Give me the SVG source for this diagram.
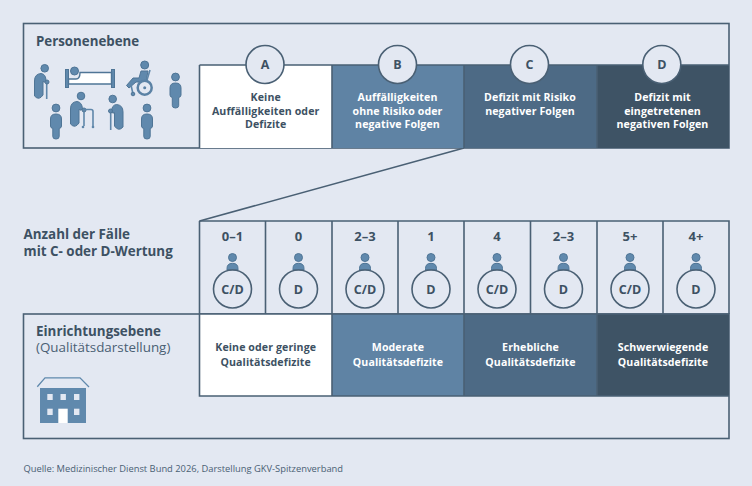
<svg xmlns="http://www.w3.org/2000/svg" width="752" height="486" viewBox="0 0 752 486">
<style>
text{font-family:"Open Sans","Noto Sans",sans-serif}
.ln{fill:none;stroke:#4a6074;stroke-width:1.6}
.b{fill:#3d5163;font-weight:700}
.lab{font-size:10.6px;font-weight:700;text-anchor:middle;letter-spacing:.1px}
.dk{fill:#3d5163}.wh{fill:#fff}
.ltr{font-size:12.5px;font-weight:700;text-anchor:middle;fill:#3d5163}
.cnt{font-size:13px;font-weight:700;text-anchor:middle;fill:#3d5163}
.circ{fill:#e3e8f2;stroke:#4a6074;stroke-width:1.6}
.ic{fill:#6089ad;stroke:#4f7596;stroke-width:1}
.pole{fill:none;stroke:#5f87aa;stroke-width:1.6}
</style>
<defs>
<g id="person"><circle cx="0" cy="-14.5" r="3.9" class="ic"/><path class="ic" d="M-5.5 -3.5Q-5.500 -8.500 0 -8.500Q5.500 -8.500 5.500 -3.500V3.500Q5.500 5.500 3.200 6V14Q3.200 16.500 0 16.500Q-3.200 16.500 -3.200 14V6Q-5.500 5.500 -5.500 3.500Z"/></g>
<g id="mini"><circle cx="0" cy="-4" r="4" class="ic"/><path class="ic" d="M-5.5 8.500V7Q-5.500 1.800 0 1.800Q5.500 1.800 5.500 7V8.500Z"/></g>
</defs>
<rect width="752" height="486" fill="#e3e8f2"/>
<g id="connectors">
<path class="ln" d="M199.500 221L464 148"/>
</g>
<g id="personenebene">
<rect class="ln" x="23.500" y="23.500" width="705.500" height="124.500"/>
<text x="36" y="45.500" font-size="13.300px" class="b">Personenebene</text>
<g id="elder-left"><circle cx="44.700" cy="68.300" r="3.800" class="ic"/><path class="ic" d="M34.500 96V81Q34.500 74 41 73.500Q46 74 46 81Q44.500 83 43 81.500V95Q39 101 34.500 96Z"/><path class="pole" d="M46.700 83V99"/><circle cx="47" cy="82" r="2" class="ic"/></g>
<g id="bed">
<rect x="65.500" y="69.500" width="3" height="18" class="ic"/><rect x="111.500" y="69.500" width="3" height="18" class="ic"/>
<circle cx="74.500" cy="71" r="4" class="ic"/>
<path d="M80 72.500H111.500V84H68.500V79H76Q80 79 80 72.500Z" fill="#fff" stroke="#4f7596" stroke-width="1.400"/>
</g>
<g id="wheelchair">
<circle cx="144.700" cy="65" r="4" class="ic"/>
<path class="ic" d="M141 71H148L146 82H136L129 88L126.500 85.500L133 78H139Z"/>
<path class="pole" d="M150 70L147 80M131 85L133 94"/>
<circle cx="144.700" cy="87.700" r="7" fill="#e3e8f2" stroke="#5b82a5" stroke-width="2.500"/><circle cx="144.700" cy="87.700" r="1.500" fill="#5b82a5"/>
<circle cx="133" cy="94" r="1.800" class="ic"/>
</g>
<g transform="translate(175.500,91.500)"><use href="#person"/></g>
<g transform="translate(56,122.500)"><use href="#person"/></g>
<g id="walker">
<circle cx="81" cy="96" r="3.800" class="ic"/>
<path class="ic" d="M70.500 124V109Q70.500 102 77 101.500Q82 102 82.500 109Q81 111 79 109.500V123Q75 129 70.500 124Z"/>
<circle cx="84" cy="110" r="2" class="ic"/>
<path class="pole" d="M84 109.500H91Q93 109.500 93 111.500V126M84 112V126"/>
<circle cx="83" cy="127" r="1.300" fill="#5f87aa"/><circle cx="93" cy="127" r="1.300" fill="#5f87aa"/>
</g>
<g id="elder-right"><circle cx="112.700" cy="99" r="3.800" class="ic"/><path class="ic" d="M123 127V112Q123 105 116.500 104.500Q111.500 105 111.500 112Q113 114 114.500 112.500V126Q118.500 132 123 127Z"/><path class="pole" d="M110.700 112V130"/><circle cx="110.500" cy="111" r="2" class="ic"/></g>
<g transform="translate(147,122.500)"><use href="#person"/></g>
</g>
<g id="cell-a"><rect x="199.500" y="65" width="132.500" height="83" class="wh"/>
<text class="lab dk"><tspan x="265.700" y="101">Keine</tspan><tspan x="265.700" y="114.500">Auffälligkeiten oder</tspan><tspan x="265.700" y="128">Defizite</tspan></text></g>
<g id="cell-b"><rect x="332" y="65" width="132" height="83" fill="#5f83a4"/>
<text class="lab wh"><tspan x="397.500" y="101">Auffälligkeiten</tspan><tspan x="397.500" y="114.500">ohne Risiko oder</tspan><tspan x="397.500" y="128">negative Folgen</tspan></text></g>
<g id="cell-c"><rect x="464" y="65" width="133" height="83" fill="#4d6a85"/>
<text class="lab wh"><tspan x="530" y="101">Defizit mit Risiko</tspan><tspan x="530" y="114.500">negativer Folgen</tspan></text></g>
<g id="cell-d"><rect x="597" y="65" width="132" height="83" fill="#3e5365"/>
<text class="lab wh"><tspan x="662.500" y="101">Defizit mit</tspan><tspan x="662.500" y="114.500">eingetretenen</tspan><tspan x="662.500" y="128">negativen Folgen</tspan></text></g>
<path class="ln" d="M199.500 65H729M199.500 65V148M332 65V148M464 65V148M597 65V148"/>
<g id="badge-a"><circle class="circ" cx="265" cy="64.500" r="19"/><text class="ltr" x="265" y="69">A</text></g>
<g id="badge-b"><circle class="circ" cx="397.500" cy="64.500" r="19"/><text class="ltr" x="397.500" y="69">B</text></g>
<g id="badge-c"><circle class="circ" cx="529.500" cy="64.500" r="19"/><text class="ltr" x="529.500" y="69">C</text></g>
<g id="badge-d"><circle class="circ" cx="661.800" cy="64.500" r="19"/><text class="ltr" x="661.800" y="69">D</text></g>
<g id="anzahl">
<text font-size="13.400px" class="b"><tspan x="23.500" y="239">Anzahl der Fälle</tspan><tspan x="23.500" y="256">mit C- oder D-Wertung</tspan></text>
<path class="ln" d="M199.500 221H729V314M199.500 221V314M265.500 221V314M332 221V314M398 221V314M464 221V314M530.500 221V314M597 221V314M663 221V314"/>
</g>
<g id="count-1"><text class="cnt" x="232.500" y="240.500">0–1</text><use href="#mini" x="232.500" y="261.500"/><circle class="circ" cx="232.500" cy="289" r="19"/><text class="ltr" x="232.500" y="293.500">C/D</text></g>
<g id="count-2"><text class="cnt" x="298.500" y="240.500">0</text><use href="#mini" x="298.500" y="261.500"/><circle class="circ" cx="298.500" cy="289" r="19"/><text class="ltr" x="298.500" y="293.500">D</text></g>
<g id="count-3"><text class="cnt" x="365" y="240.500">2–3</text><use href="#mini" x="365" y="261.500"/><circle class="circ" cx="365" cy="289" r="19"/><text class="ltr" x="365" y="293.500">C/D</text></g>
<g id="count-4"><text class="cnt" x="431" y="240.500">1</text><use href="#mini" x="431" y="261.500"/><circle class="circ" cx="431" cy="289" r="19"/><text class="ltr" x="431" y="293.500">D</text></g>
<g id="count-5"><text class="cnt" x="497" y="240.500">4</text><use href="#mini" x="497" y="261.500"/><circle class="circ" cx="497" cy="289" r="19"/><text class="ltr" x="497" y="293.500">C/D</text></g>
<g id="count-6"><text class="cnt" x="563.500" y="240.500">2–3</text><use href="#mini" x="563.500" y="261.500"/><circle class="circ" cx="563.500" cy="289" r="19"/><text class="ltr" x="563.500" y="293.500">D</text></g>
<g id="count-7"><text class="cnt" x="630" y="240.500">5+</text><use href="#mini" x="630" y="261.500"/><circle class="circ" cx="630" cy="289" r="19"/><text class="ltr" x="630" y="293.500">C/D</text></g>
<g id="count-8"><text class="cnt" x="696" y="240.500">4+</text><use href="#mini" x="696" y="261.500"/><circle class="circ" cx="696" cy="289" r="19"/><text class="ltr" x="696" y="293.500">D</text></g>
<g id="einrichtungsebene">
<rect class="ln" x="23.500" y="314" width="705.500" height="124.500"/>
<text x="36" y="336" font-size="13.400px" class="b">Einrichtungsebene</text>
<text x="36" y="352" font-size="13.400px" fill="#4a6074">(Qualitätsdarstellung)</text>
<g id="building">
<rect x="40" y="388" width="46" height="35" fill="#6089ad"/>
<path d="M37.300 386.700L45 377.800H80L89 387" fill="none" stroke="#6089ad" stroke-width="1.300"/>
<g fill="#e3e8f2"><rect x="47.300" y="394" width="5.400" height="6"/><rect x="60.500" y="394" width="5.400" height="6"/><rect x="74" y="394" width="5.400" height="6"/><rect x="47.300" y="408.700" width="5.400" height="6.300"/><rect x="74" y="408.700" width="5.400" height="6.300"/></g>
<rect x="58.300" y="408.700" width="9.400" height="14.300" fill="#fff"/>
</g>
</g>
<g id="level-1"><rect x="199.500" y="314" width="132.500" height="82" class="wh"/>
<text class="lab dk"><tspan x="265.700" y="351">Keine oder geringe</tspan><tspan x="265.700" y="365.500">Qualitätsdefizite</tspan></text></g>
<g id="level-2"><rect x="332" y="314" width="132" height="82" fill="#5f83a4"/>
<text class="lab wh"><tspan x="398" y="351">Moderate</tspan><tspan x="398" y="365.500">Qualitätsdefizite</tspan></text></g>
<g id="level-3"><rect x="464" y="314" width="133" height="82" fill="#4d6a85"/>
<text class="lab wh"><tspan x="530.500" y="351">Erhebliche</tspan><tspan x="530.500" y="365.500">Qualitätsdefizite</tspan></text></g>
<g id="level-4"><rect x="597" y="314" width="132" height="82" fill="#3e5365"/>
<text class="lab wh"><tspan x="663" y="351">Schwerwiegende</tspan><tspan x="663" y="365.500">Qualitätsdefizite</tspan></text></g>
<path class="ln" d="M199.500 314V396H729M332 314V396M464 314V396M597 314V396M199.500 314H729"/>
<text id="source" x="23.500" y="472" font-size="9.350px" fill="#4a6074">Quelle: Medizinischer Dienst Bund 2026, Darstellung GKV-Spitzenverband</text>
</svg>
